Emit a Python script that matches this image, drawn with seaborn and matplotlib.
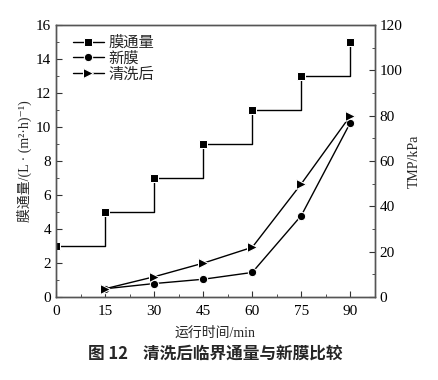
import matplotlib
matplotlib.use("Agg")
import matplotlib.pyplot as plt
import seaborn as sns
import pandas as pd
from matplotlib.ticker import MultipleLocator

time_min = [0, 15, 30, 45, 60, 75, 90]
flux = [3, 5, 7, 9, 11, 13, 15]
tmp_time = [15, 30, 45, 60, 75, 90]
tmp_new = [3.7, 6.0, 7.9, 10.9, 36.0, 77.0]
tmp_clean = [3.7, 9.0, 15.0, 22.0, 50.0, 80.0]
labels = ["膜通量", "新膜", "清洗后"]

sns.set_style("ticks")
plt.rcParams['font.family'] = ['Liberation Serif', 'Noto Sans CJK SC', 'DejaVu Serif']
plt.rcParams['xtick.direction'] = 'in'
plt.rcParams['ytick.direction'] = 'in'
plt.rcParams['axes.linewidth'] = 1.0

fig = plt.figure(figsize=(4.39, 3.80), dpi=100)
ax = fig.add_axes([0.1276, 0.218, 0.7264, 0.716])
ax2 = ax.twinx()

df_flux = pd.DataFrame({"t": time_min, "v": flux})
df_new = pd.DataFrame({"t": tmp_time, "v": tmp_new})
df_clean = pd.DataFrame({"t": tmp_time, "v": tmp_clean})

sns.lineplot(data=df_flux, x="t", y="v", ax=ax, color="black", lw=1.0,
             marker="s", markersize=6, drawstyle="steps-post", label=labels[0], legend=False)
sns.lineplot(data=df_new, x="t", y="v", ax=ax2, color="black", lw=1.0,
             marker="o", markersize=6, label=labels[1], legend=False)
sns.lineplot(data=df_clean, x="t", y="v", ax=ax2, color="black", lw=1.0,
             marker=">", markersize=6.5, label=labels[2], legend=False)

ax.set_xlim(0, 97.5)
ax.set_ylim(0, 16)
ax2.set_ylim(0, 120)
ax.set_xticks(time_min)
ax.xaxis.set_minor_locator(MultipleLocator(7.5))
ax.yaxis.set_major_locator(MultipleLocator(2))
ax.yaxis.set_minor_locator(MultipleLocator(1))
ax2.yaxis.set_major_locator(MultipleLocator(20))
ax2.yaxis.set_minor_locator(MultipleLocator(10))

for a in (ax, ax2):
    for s in a.spines.values():
        s.set_color("#555555")
        s.set_linewidth(1.0)
    a.tick_params(which="both", colors="#333333", labelcolor="black", labelsize=11)
    a.tick_params(which="major", length=4)
    a.tick_params(which="minor", length=2.5)
ax.tick_params(axis="x", pad=6)

ax.set_xlabel("运行时间/min", fontsize=10, labelpad=6)
ax.set_ylabel("膜通量/(L · (m²·h)⁻¹)", fontsize=10, labelpad=3)
ax2.set_ylabel("TMP/kPa", fontsize=10, labelpad=4)

h1, l1 = ax.get_legend_handles_labels()
h2, l2 = ax2.get_legend_handles_labels()
ax.legend(h1 + h2, l1 + l2, loc="upper left", frameon=False, fontsize=11,
          handlelength=2.0, handletextpad=0.3, labelspacing=0.1,
          borderaxespad=0.3, bbox_to_anchor=(0.02, 1.0))

fig.text(0.49, 0.07, "图 12    清洗后临界通量与新膜比较", ha="center", va="center",
         fontsize=12, fontweight="bold", family=["Noto Sans CJK SC", "DejaVu Sans"])

fig.savefig("out.png", dpi=100)
